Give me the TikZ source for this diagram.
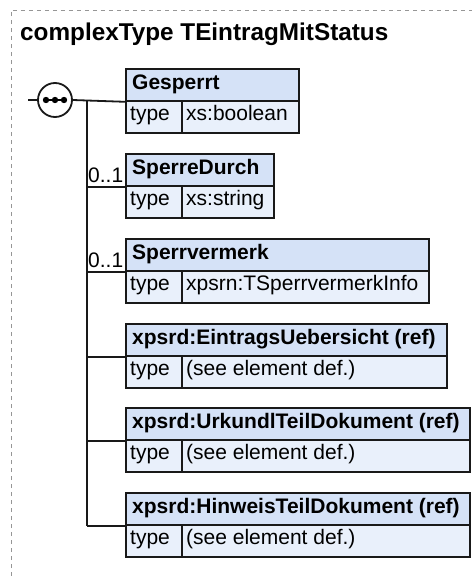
\documentclass[tikz,border=0pt]{standalone}
\usepackage{fontspec}
\setmainfont{Liberation Sans}
\usetikzlibrary{positioning}
\definecolor{hdrblue}{RGB}{213,226,247}
\definecolor{rowblue}{RGB}{233,240,251}
\definecolor{framegray}{RGB}{150,150,150}
\newcommand{\boxfont}{\fontsize{21}{25}\selectfont}

\begin{document}
\begin{tikzpicture}[x=1pt,y=-1pt,
	cell/.style={draw=black!90,line width=1.8pt,anchor=north west,minimum height=32pt,inner sep=0pt},
	hdr/.style={cell,fill=hdrblue},
	row/.style={cell,fill=rowblue},
	txt/.style={anchor=base west,inner sep=0pt,font=\boxfont},
	conn/.style={line width=1.8pt,draw=black!90}]
	\useasboundingbox (0,0) rectangle (472,576);
	\draw[framegray,line width=1pt,dash pattern=on 4pt off 4pt] (11,576) |- (472,10);
	\node[txt,font=\bfseries\fontsize{24.3}{28}\selectfont] (title) at (20,40) {complexType TEintragMitStatus};

	\foreach \i/\ty/\rx/\lbl/\val in {
		1/68/298/Gesperrt/xs:boolean,
		2/153/273/SperreDurch/xs:string,
		3/238/428/Sperrvermerk/xpsrn:TSperrvermerkInfo,
		4/323/446/xpsrd:EintragsUebersicht (ref)/(see element def.),
		5/407/469/xpsrd:UrkundlTeilDokument (ref)/(see element def.),
		6/492/469/xpsrd:HinweisTeilDokument (ref)/(see element def.)}{
		\node[hdr,minimum width={(\rx-125)*1pt}] (h\i) at (125,\ty) {};
		\node[row,minimum width=56pt] (k\i) at (125,\ty+32) {};
		\node[row,minimum width={(\rx-181)*1pt}] (v\i) at (181,\ty+32) {};
		\node[txt,font=\bfseries\boxfont] (hl\i) at (132,\ty+21.5) {\lbl};
		\node[txt] (kl\i) at (130,\ty+52) {type};
		\node[txt] (vl\i) at (186,\ty+52) {\val};
	}

	\node[circle,draw=black!90,line width=1.8pt,fill=white,minimum size=34pt,inner sep=0pt] (seq) at (55,100) {};
	\draw[line width=1.8pt] (44,100) -- (66,100);
	\foreach \dx in {-9,0,9}
		\fill (55+\dx,100) circle (3.2pt);
	\coordinate (in) at (28,100);
	\coordinate (sp) at (87,100);
	\draw[conn] (in) -- (seq.west);
	\draw[conn] (seq.east) -- (h1.south west);
	\draw[conn] (sp) -- (sp |- h6.south west);
	\foreach \i in {2,...,6}
		\draw[conn] (sp |- h\i.south west) -- (h\i.south west);

	\node[txt] (o2) at (88,182) {0..1};
	\node[txt] (o3) at (88,267) {0..1};
\end{tikzpicture}
\end{document}
